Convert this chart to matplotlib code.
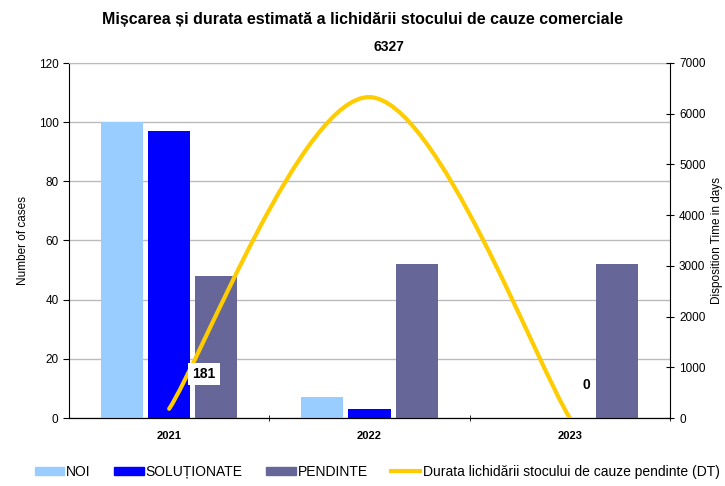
import numpy as np
import matplotlib
matplotlib.use('Agg')
import matplotlib.pyplot as plt
from matplotlib.path import Path
from matplotlib.patches import PathPatch, Patch
from matplotlib.lines import Line2D

plt.rcParams['font.family'] = ['Liberation Sans', 'DejaVu Sans']

# data
years = ['2021', '2022', '2023']
noi = [100, 7, 0]
solutionate = [97, 3, 0]
pendinte = [48, 52, 52]
dt = [181, 6327, 0]

c_noi = '#99CCFF'
c_sol = '#0000FF'
c_pen = '#666699'
c_dt = '#FFCC00'

fig = plt.figure(figsize=(7.25, 4.86), dpi=100)
ax = fig.add_axes([69/725, 68/486, 601/725, 355/486])

x = np.arange(len(years))
w = 0.21
off = 0.235
ax.bar(x - off, noi, w, color=c_noi, zorder=3)
ax.bar(x, solutionate, w, color=c_sol, zorder=3)
ax.bar(x + off, pendinte, w, color=c_pen, zorder=3)

ax.set_xlim(-0.5, 2.5)
ax.set_ylim(0, 120)
ax.set_yticks(range(0, 121, 20))
ax.yaxis.grid(True, color='#BBBBBB', linewidth=1, zorder=0)
ax.set_xticks(x)
ax.set_xticklabels(years, fontweight='bold', fontsize=8)
ax.set_xticks([0.5, 1.5, 2.5], minor=True)
ax.tick_params(axis='x', which='major', length=0, pad=9)
ax.tick_params(axis='x', which='minor', length=4, direction='inout')
ax.tick_params(axis='y', labelsize=8.5, direction='out', length=4)
ax.set_ylabel('Number of cases', fontsize=8.5, labelpad=7)
ax.spines['top'].set_color('#BBBBBB')
ax.spines['right'].set_visible(False)

ax2 = ax.twinx()
ax2.set_ylim(0, 7000)
ax2.set_yticks(range(0, 7001, 1000))
ax2.tick_params(axis='y', labelsize=8.5, direction='inout', length=6)
ax2.set_ylabel('Disposition Time in days', fontsize=8.5, labelpad=4)
ax2.spines['top'].set_visible(False)
ax2.spines['left'].set_visible(False)

# smoothed line (Bezier segments through the data points)
pts = np.column_stack([x, dt]).astype(float)
ext = np.vstack([pts[0], pts, pts[-1]])
verts = [tuple(pts[0])]
codes = [Path.MOVETO]
for i in range(len(pts) - 1):
    p0, p1, p2, p3 = ext[i], ext[i + 1], ext[i + 2], ext[i + 3]
    verts += [tuple(p1 + (p2 - p0) / 6), tuple(p2 - (p3 - p1) / 6), tuple(p2)]
    codes += [Path.CURVE4] * 3
ax2.add_patch(PathPatch(Path(verts, codes), facecolor='none', edgecolor=c_dt,
                        linewidth=3, capstyle='round', zorder=4))

box = dict(facecolor='white', edgecolor='none', pad=3)
ax2.annotate(str(dt[0]), (x[0], dt[0]), xytext=(25, 25), textcoords='offset points',
             ha='center', va='center', fontsize=10, fontweight='bold', bbox=box, zorder=6)
ax2.annotate(str(dt[1]), (x[1], dt[1]), xytext=(14, 36), textcoords='offset points',
             ha='center', va='center', fontsize=10, fontweight='bold', annotation_clip=False,
             zorder=6)
ax2.annotate(str(dt[2]), (x[2], dt[2]), xytext=(12, 24), textcoords='offset points',
             ha='center', va='center', fontsize=10, fontweight='bold', bbox=box, zorder=6)

fig.suptitle('Mișcarea și durata estimată a lichidării stocului de cauze comerciale',
             fontsize=11.5, fontweight='bold', y=0.975)

handles = [Patch(color=c_noi), Patch(color=c_sol), Patch(color=c_pen),
           Line2D([], [], color=c_dt, linewidth=3)]
labels = ['NOI', 'SOLUȚIONATE', 'PENDINTE', 'Durata lichidării stocului de cauze pendinte (DT)']
fig.legend(handles, labels, loc='center left', bbox_to_anchor=(35/725, 14/486), ncol=4,
           frameon=False, fontsize=10, handlelength=2.1, handleheight=0.55,
           handletextpad=0.15, columnspacing=1.7, borderpad=0, borderaxespad=0)

fig.savefig('out.png', dpi=100)
